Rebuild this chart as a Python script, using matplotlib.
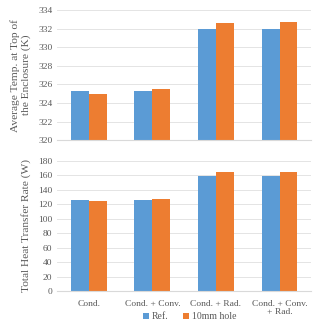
import matplotlib
matplotlib.use("Agg")
import matplotlib.pyplot as plt
import numpy as np

categories = ["Cond.", "Cond. + Conv.", "Cond. + Rad.", "Cond. + Conv.\n+ Rad."]
series_names = ["Ref.", "10mm hole"]
temp_ref = [325.25, 325.25, 331.95, 331.95]
temp_hole = [324.95, 325.5, 332.6, 332.7]
heat_ref = [125.5, 126.0, 158.5, 158.5]
heat_hole = [124.0, 127.0, 164.0, 165.0]
temp_ticks = [320, 322, 324, 326, 328, 330, 332, 334]
heat_ticks = [0, 20, 40, 60, 80, 100, 120, 140, 160, 180]

blue = "#5B9BD5"
orange = "#ED7D31"
plt.rcParams['font.family'] = ['Liberation Serif', 'DejaVu Serif']

fig = plt.figure(figsize=(3.16, 3.25), dpi=100)
ax1 = fig.add_axes([0.181, 0.569, 0.804, 0.400])
ax2 = fig.add_axes([0.181, 0.104, 0.804, 0.4015])

x = np.arange(len(categories))
w = 0.283

def style(ax, ticks, lo, hi):
    ax.set_ylim(lo, hi)
    ax.set_yticks(ticks)
    ax.set_xlim(-0.5, len(categories) - 0.5)
    ax.grid(axis='y', color='#e4e4e4', linewidth=0.7)
    ax.set_axisbelow(True)
    for s in ['top', 'right', 'left']:
        ax.spines[s].set_visible(False)
    ax.spines['bottom'].set_color('#d9d9d9')
    ax.tick_params(axis='both', length=0, labelsize=6.8, colors='#595959')

ax1.bar(x - w/2, temp_ref, w, color=blue, label=series_names[0])
ax1.bar(x + w/2, temp_hole, w, color=orange, label=series_names[1])
style(ax1, temp_ticks, 320, 334)
ax1.set_xticks(x)
ax1.set_xticklabels([])
ax1.set_ylabel("Average Temp. at Top of\nthe Enclosure (K)", fontsize=8.2, color='#595959',
               linespacing=1.25, labelpad=5)

b1 = ax2.bar(x - w/2, heat_ref, w, color=blue, label=series_names[0])
b2 = ax2.bar(x + w/2, heat_hole, w, color=orange, label=series_names[1])
style(ax2, heat_ticks, 0, 180)
ax2.set_xticks(x)
ax2.set_xticklabels(categories, linespacing=1.05)
ax2.tick_params(axis='x', pad=6)
ax2.set_ylabel("Total Heat Transfer Rate (W)", fontsize=8.2, color='#595959', labelpad=5)

fig.legend(handles=[b1, b2], labels=series_names, loc='lower center',
           bbox_to_anchor=(0.6, -0.015), ncol=2, frameon=False, fontsize=7,
           handlelength=0.6, handleheight=0.6, handletextpad=0.3, columnspacing=1.5,
           labelcolor='#595959')

fig.savefig("out.png", dpi=100)
